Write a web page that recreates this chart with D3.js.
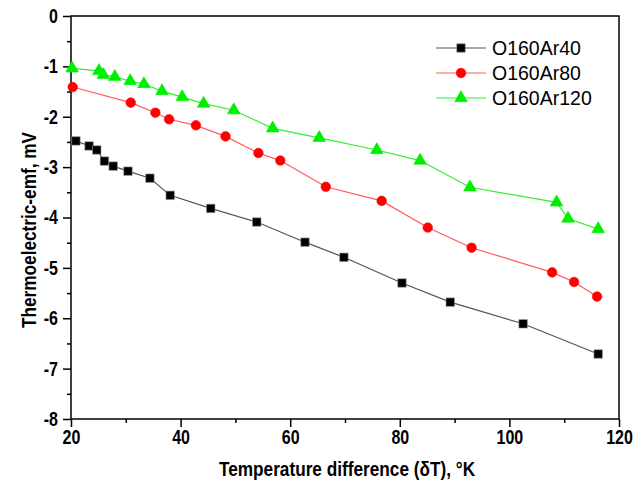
<!DOCTYPE html>
<html>
<head>
<meta charset="utf-8">
<script src="https://cdn.jsdelivr.net/npm/d3@7"></script>
<style>
  body { margin: 0; background: #fff; }
  svg text { font-family: "Liberation Sans", Arial, sans-serif; fill: #000; }
</style>
</head>
<body>
<div id="chart"></div>
<script>
// series names
const seriesNames = ['O160Ar40', 'O160Ar80', 'O160Ar120'];

// temperature difference (K) and thermo-emf (mV)
const ar40X = [20.9, 23.3, 24.7, 26.1, 27.7, 30.4, 34.4, 38.1, 45.5, 53.9, 62.7, 69.8, 80.4, 89.2, 102.5, 116.2];
const ar40Y = [-2.48, -2.58, -2.66, -2.88, -2.98, -3.08, -3.22, -3.56, -3.82, -4.09, -4.49, -4.79, -5.30, -5.68, -6.11, -6.71];

const ar80X = [20.3, 30.9, 35.4, 37.9, 42.8, 48.2, 54.2, 58.2, 66.5, 76.7, 85.1, 93.1, 107.8, 111.8, 116.0];
const ar80Y = [-1.41, -1.72, -1.92, -2.05, -2.17, -2.39, -2.72, -2.87, -3.39, -3.67, -4.20, -4.60, -5.09, -5.28, -5.57];

const ar120X = [20.2, 25.1, 25.9, 28.0, 30.8, 33.3, 36.6, 40.3, 44.2, 49.7, 56.8, 65.3, 75.8, 83.7, 92.8, 108.6, 110.7, 116.2];
const ar120Y = [-1.04, -1.09, -1.17, -1.21, -1.29, -1.35, -1.49, -1.61, -1.74, -1.87, -2.23, -2.42, -2.66, -2.87, -3.40, -3.70, -4.02, -4.23];

const xTicks = [20, 40, 60, 80, 100, 120];
const yTicks = [0, -1, -2, -3, -4, -5, -6, -7, -8];

const width = 644;
const height = 486;
const margin = { left: 71, right: 25, top: 16, bottom: 67 };
const axisWidth = width - margin.left - margin.right;
const axisHeight = height - margin.top - margin.bottom;
const squeeze = 0.8; // the original uses a narrow bold face

const series = [
    { name: seriesNames[0], xs: ar40X, ys: ar40Y, line: '#555555', fill: '#000000', stroke: '#999999', symbol: d3.symbolSquare, size: 72 },
    { name: seriesNames[1], xs: ar80X, ys: ar80Y, line: '#ff5a5a', fill: '#ff0000', stroke: '#ff0000', symbol: d3.symbolCircle, size: 72 },
    { name: seriesNames[2], xs: ar120X, ys: ar120Y, line: '#33ee33', fill: '#00ee00', stroke: '#00ee00', symbol: d3.symbolTriangle, size: 70 }
];

const svg = d3.select('#chart')
    .append('svg')
    .attr('width', width)
    .attr('height', height);

const g = svg.append('g')
    .attr('transform', 'translate(' + margin.left + ',' + margin.top + ')');

const xScale = d3.scaleLinear().domain([20, 120]).range([0, axisWidth]);
const yScale = d3.scaleLinear().domain([0, -8]).range([0, axisHeight]);

// frame
g.append('rect')
    .attr('x', 0).attr('y', 0)
    .attr('width', axisWidth).attr('height', axisHeight)
    .attr('fill', 'none')
    .attr('stroke', '#000')
    .attr('stroke-width', 1.5);

// minor ticks
const xMinor = d3.axisBottom(xScale).tickValues([30, 50, 70, 90, 110]).tickSize(4).tickFormat('');
const yMinor = d3.axisLeft(yScale).tickValues(d3.range(-0.5, -8, -1)).tickSize(4).tickFormat('');

g.append('g').attr('transform', 'translate(0,' + axisHeight + ')').call(xMinor);
g.append('g').call(yMinor);

//x-axis
const xAxis = d3.axisBottom(xScale).tickValues(xTicks).tickSize(8).tickPadding(3).tickFormat(d3.format('d'));
g.append('g')
    .classed('x-axis', true)
    .attr('transform', 'translate(0,' + axisHeight + ')')
    .call(xAxis);

//y-axis
const yAxis = d3.axisLeft(yScale).tickValues(yTicks).tickSize(8).tickPadding(4).tickFormat(d => d === 0 ? '0' : '-' + Math.abs(d));
g.append('g')
    .classed('y-axis', true)
    .call(yAxis);

g.selectAll('.domain').remove();
g.selectAll('.tick line').attr('stroke', '#000').attr('stroke-width', 1.5);
g.selectAll('.tick text')
    .attr('font-weight', 'bold')
    .attr('font-size', 20)
    .attr('fill', '#000');

// squeeze tick labels horizontally, keeping them at the same spot
g.selectAll('.y-axis .tick text')
    .attr('x', -13 / squeeze)
    .attr('transform', 'scale(' + squeeze + ',1)');
g.selectAll('.x-axis .tick text')
    .attr('transform', 'scale(' + squeeze + ',1)');

// axis titles
svg.append('text')
    .attr('transform', 'translate(' + (margin.left + axisWidth / 2 + 2) + ',476) scale(0.84,1)')
    .attr('text-anchor', 'middle')
    .attr('font-weight', 'bold')
    .attr('font-size', 20.5)
    .text('Temperature difference (δT), °K');

svg.append('text')
    .attr('transform', 'translate(36,230) rotate(-90) scale(0.82,1)')
    .attr('text-anchor', 'middle')
    .attr('font-weight', 'bold')
    .attr('font-size', 21)
    .text('Thermoelectric-emf, mV');

// lines and markers
const line = d3.line()
    .x(d => xScale(d[0]))
    .y(d => yScale(d[1]));

series.forEach(s => {
    const pts = s.xs.map((x, i) => [x, s.ys[i]]);
    g.append('path')
        .datum(pts)
        .attr('d', line)
        .attr('fill', 'none')
        .attr('stroke', s.line)
        .attr('stroke-width', 1.2);

    g.selectAll(null)
        .data(pts)
        .enter()
        .append('path')
        .attr('d', d3.symbol().type(s.symbol).size(s.size))
        .attr('transform', d => 'translate(' + xScale(d[0]) + ',' + yScale(d[1]) + ')')
        .attr('fill', s.fill)
        .attr('stroke', s.stroke)
        .attr('stroke-width', 0.6);
});

// legend
const legend = svg.append('g').attr('transform', 'translate(436,48)');
series.forEach((s, i) => {
    const row = legend.append('g').attr('transform', 'translate(0,' + (i * 25) + ')');
    row.append('line')
        .attr('x1', 0).attr('x2', 50)
        .attr('y1', 0).attr('y2', 0)
        .attr('stroke', s.line)
        .attr('stroke-width', 1.2);
    row.append('path')
        .attr('d', d3.symbol().type(s.symbol).size(s.size))
        .attr('transform', 'translate(25,0)')
        .attr('fill', s.fill)
        .attr('stroke', s.stroke)
        .attr('stroke-width', 0.6);
    row.append('text')
        .attr('x', 56)
        .attr('y', 7)
        .attr('font-size', 19.5)
        .text(s.name);
});
</script>
</body>
</html>
